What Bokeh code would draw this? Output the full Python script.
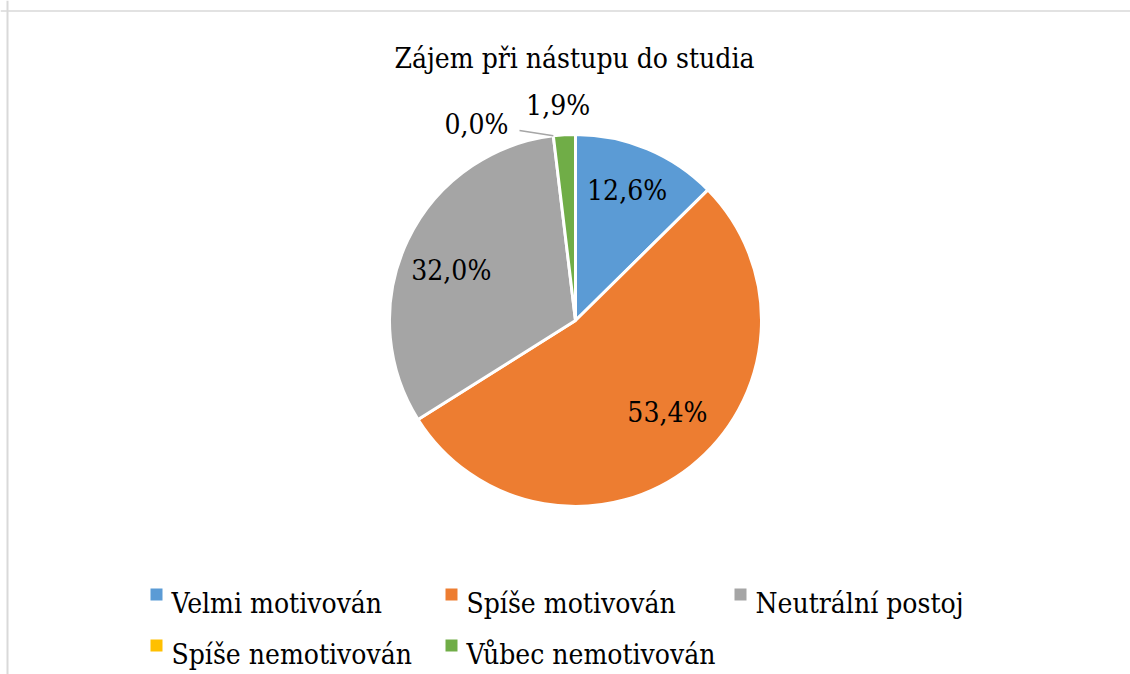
import math
from bokeh.plotting import figure
from bokeh.models import Range1d, Span, ColumnDataSource
from bokeh.core.properties import value
from bokeh.embed import file_html
from bokeh.resources import INLINE

# ---- data ----
title_text = "Zájem při nástupu do studia"
categories = ["Velmi motivován", "Spíše motivován", "Neutrální postoj",
              "Spíše nemotivován", "Vůbec nemotivován"]
values = [12.6, 53.4, 32.0, 0.0, 1.9]
labels = ["12,6%", "53,4%", "32,0%", "0,0%", "1,9%"]
colors = ["#5B9BD5", "#ED7D31", "#A5A5A5", "#FFC000", "#70AD47"]

W, H = 1130, 674
def px(x):
    return x
def py(y):
    return H - y

FONT = value("DejaVu Serif Condensed")
FS = "28px"

cx, cy, R = px(575), py(320), 186

p = figure(width=W, height=H, output_backend="svg", toolbar_location=None,
           x_range=Range1d(0, W), y_range=Range1d(0, H),
           x_axis_type=None, y_axis_type=None, min_border=0)
p.outline_line_color = None
p.grid.visible = False
p.background_fill_color = "white"

p.add_layout(Span(location=py(10.5), dimension="width", line_color="#D9D9D9", line_width=1.5))
p.add_layout(Span(location=px(7), dimension="height", line_color="#D9D9D9", line_width=2))

total = sum(values)
starts, ends, mids = [], [], []
cum = 0.0
for v in values:
    a0 = math.pi / 2 - 2 * math.pi * cum / total
    cum += v
    a1 = math.pi / 2 - 2 * math.pi * cum / total
    starts.append(a0)
    ends.append(a1)
    mids.append((a0 + a1) / 2)

keep = [i for i, v in enumerate(values) if v > 0]
src = ColumnDataSource(dict(start=[starts[i] for i in keep],
                            end=[ends[i] for i in keep],
                            color=[colors[i] for i in keep],
                            cat=[categories[i] for i in keep]))
p.wedge(x=cx, y=cy, radius=R, start_angle="start", end_angle="end",
        direction="clock", fill_color="color", line_color="white",
        line_width=3, source=src)

label_rad = [0.75, 0.70, 0.72, 1.18, 1.16]
label_dang = [1.0, 6.5, 3.5, 20.0, 1.2]
for lab, m, rf, da in zip(labels, mids, label_rad, label_dang):
    a = m + math.radians(da)
    lx = cx + R * rf * math.cos(a)
    ly = cy + R * rf * math.sin(a)
    p.text(x=[lx], y=[ly], text=[lab], text_font=FONT, text_font_size=FS,
           text_align="center", text_baseline="middle", text_color="black")

zi = 3
ex = cx + R * math.cos(mids[zi])
ey = cy + R * math.sin(mids[zi])
p.segment(x0=[ex], y0=[ey], x1=[px(519)], y1=[py(130)],
          line_color="#A6A6A6", line_width=1.5)

p.text(x=[px(574)], y=[py(58)], text=[title_text], text_font=FONT,
       text_font_size="28px", text_align="center", text_baseline="alphabetic",
       text_color="black")

col_x = [150, 445, 734]
row_y = [594, 645]
for i, (cat, col) in enumerate(zip(categories, colors)):
    r, c = divmod(i, 3)
    sx = px(col_x[c] + 6)
    sy = py(row_y[r])
    p.scatter(x=[sx], y=[sy], marker="square", size=12, fill_color=col,
              line_color=None)
    p.text(x=[px(col_x[c] + 21)], y=[py(row_y[r] + 9)], text=[cat],
           text_font=FONT, text_font_size=FS,
           text_align="left", text_baseline="alphabetic", text_color="black")

open("out.html", "w").write(file_html(p, INLINE))
